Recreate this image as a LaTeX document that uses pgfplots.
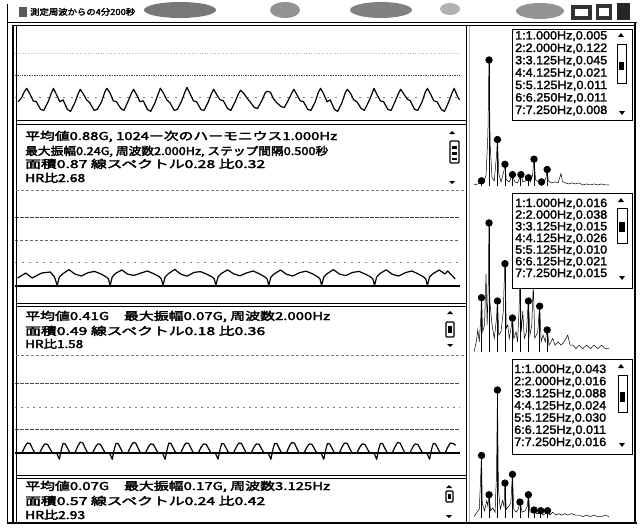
\documentclass[border=0pt]{standalone}
\usepackage{pgfplots}
\pgfplotsset{compat=1.18}
\usepackage{graphicx}
\usepackage{fontspec}
\newfontfamily\jpb{Noto Sans CJK JP}[FakeBold=2.6]
\newfontfamily\lsf{Liberation Sans}[FakeBold=2]
\newcommand{\jl}[4]{\node[anchor=base west,inner sep=0pt] at (#1,#2) {\resizebox{#3pt}{9.2pt}{\jpb\fontsize{12}{12}\selectfont #4}};}
\newcommand{\speclist}[3]{\node[anchor=base west,inner sep=0pt] at (#1,#2) {\resizebox{92pt}{8.4pt}{\lsf #3}};}
\pgfplotsset{
  wave/.style={scale only axis, anchor=south west, width=445pt, xmin=0, xmax=8.33, hide axis},
  spec/.style={scale only axis, anchor=south west, width=150pt, xmin=-0.27, xmax=19.73, hide axis},
  stem/.style={ycomb, black, line width=0.9pt, mark=*, mark size=3.2pt, mark options={fill=black}},
  raw/.style={black, line width=0.5pt},
  sig/.style={black, line width=1.2pt, line join=round}
}
\begin{document}
\begin{tikzpicture}
\path[use as bounding box, fill=white] (0pt,0pt) rectangle (642pt,-527pt);

% ---------- waveform 1 ----------
\begin{axis}[wave, at={(15pt,-120pt)}, height=95pt, ymin=0.67, ymax=1.66]
\addplot[gray!60, dotted, line width=0.6pt] coordinates {(0,1.368)(8.33,1.368)};
\addplot[black!70, densely dotted, line width=0.7pt] coordinates {(0,1.139)(8.33,1.139)};
\addplot[gray, dash pattern=on 2pt off 6pt, line width=0.5pt] coordinates {(0,0.91)(8.33,0.91)};
\addplot[sig] coordinates {
(0.06,0.86)(0.12,0.90)(0.17,0.96)
(0.22,1.00)(0.28,0.94)(0.34,0.87)(0.40,0.86)(0.48,0.78)(0.54,0.77)(0.62,0.86)(0.68,0.95)
(0.72,1.00)(0.78,0.93)(0.84,0.86)(0.90,0.88)(0.98,0.78)(1.04,0.76)(1.12,0.85)(1.18,0.94)
(1.22,0.99)(1.28,0.94)(1.34,0.88)(1.40,0.85)(1.48,0.77)(1.54,0.78)(1.62,0.86)(1.68,0.96)
(1.72,1.00)(1.78,0.95)(1.84,0.87)(1.90,0.86)(1.98,0.79)(2.04,0.77)(2.12,0.87)(2.18,0.95)
(2.22,0.99)(2.28,0.93)(2.34,0.86)(2.40,0.87)(2.48,0.78)(2.54,0.76)(2.62,0.85)(2.68,0.94)
(2.72,1.00)(2.78,0.95)(2.84,0.88)(2.90,0.85)(2.98,0.77)(3.04,0.78)(3.12,0.87)(3.18,0.96)
(3.22,1.01)(3.28,0.94)(3.34,0.87)(3.40,0.86)(3.48,0.78)(3.54,0.77)(3.62,0.86)(3.68,0.95)
(3.72,0.99)(3.78,0.93)(3.84,0.88)(3.90,0.87)(3.98,0.79)(4.04,0.77)(4.12,0.86)(4.18,0.94)
(4.22,0.98)(4.28,0.95)(4.34,0.90)(4.40,0.86)(4.48,0.80)(4.54,0.79)(4.62,0.87)(4.68,0.95)
(4.72,0.97)(4.78,0.96)(4.84,0.89)(4.90,0.85)(4.98,0.81)(5.04,0.80)(5.12,0.88)(5.18,0.95)
(5.22,0.99)(5.28,0.93)(5.34,0.87)(5.40,0.86)(5.48,0.78)(5.54,0.77)(5.62,0.86)(5.68,0.96)
(5.72,1.00)(5.78,0.94)(5.84,0.86)(5.90,0.88)(5.98,0.78)(6.04,0.76)(6.12,0.85)(6.18,0.95)
(6.22,0.99)(6.28,0.95)(6.34,0.88)(6.40,0.86)(6.48,0.79)(6.54,0.77)(6.62,0.86)(6.68,0.94)
(6.72,1.00)(6.78,0.93)(6.84,0.87)(6.90,0.86)(6.98,0.78)(7.04,0.77)(7.12,0.87)(7.18,0.95)
(7.22,0.99)(7.28,0.94)(7.34,0.89)(7.40,0.87)(7.48,0.78)(7.54,0.77)(7.62,0.86)(7.68,0.96)
(7.72,1.00)(7.78,0.94)(7.84,0.87)(7.90,0.86)(7.98,0.78)(8.04,0.76)(8.12,0.86)(8.18,0.95)
(8.22,1.00)(8.28,0.92)(8.32,0.88)};
\end{axis}

% ---------- waveform 2 ----------
\begin{axis}[wave, at={(15pt,-300pt)}, height=110pt, ymin=0.295, ymax=0.845]
\addplot[black!75, dash pattern=on 4pt off 1pt, line width=0.6pt] coordinates {(0,0.71)(8.33,0.71)};
\addplot[black!60, dash pattern=on 3pt off 2pt, line width=0.5pt] coordinates {(0,0.595)(8.33,0.595)};
\addplot[gray, dash pattern=on 2pt off 5pt, line width=0.5pt] coordinates {(0,0.485)(8.33,0.485)};
\addplot[black, line width=1.1pt] coordinates {(0,0.365)(8.33,0.365)};
\addplot[sig] coordinates {
(0.05,0.405)(0.20,0.43)(0.32,0.405)(0.50,0.43)(0.66,0.435)(0.74,0.41)(0.79,0.368)(0.83,0.41)
(0.89,0.425)(1.01,0.447)(1.12,0.425)(1.24,0.415)(1.37,0.432)(1.49,0.438)(1.61,0.425)(1.71,0.41)(1.75,0.40)(1.78,0.368)(1.82,0.41)
(1.88,0.428)(2.00,0.445)(2.11,0.424)(2.23,0.418)(2.36,0.43)(2.48,0.44)(2.60,0.426)(2.70,0.412)(2.74,0.40)(2.77,0.368)(2.81,0.41)
(2.87,0.426)(2.99,0.448)(3.10,0.425)(3.22,0.414)(3.35,0.433)(3.47,0.437)(3.59,0.424)(3.69,0.41)(3.73,0.40)(3.76,0.368)(3.80,0.41)
(3.86,0.427)(3.98,0.446)(4.09,0.426)(4.21,0.416)(4.34,0.431)(4.46,0.44)(4.58,0.425)(4.68,0.41)(4.72,0.40)(4.75,0.368)(4.79,0.41)
(4.85,0.425)(4.97,0.445)(5.08,0.424)(5.20,0.415)(5.33,0.432)(5.45,0.439)(5.57,0.426)(5.67,0.41)(5.71,0.40)(5.74,0.368)(5.78,0.41)
(5.84,0.426)(5.96,0.447)(6.07,0.425)(6.19,0.417)(6.32,0.433)(6.44,0.438)(6.56,0.424)(6.66,0.41)(6.70,0.40)(6.73,0.368)(6.77,0.41)
(6.83,0.427)(6.95,0.446)(7.06,0.424)(7.18,0.415)(7.31,0.432)(7.43,0.44)(7.55,0.425)(7.65,0.41)(7.69,0.40)(7.72,0.368)(7.76,0.41)
(7.82,0.426)(7.94,0.445)(8.05,0.425)(8.10,0.44)(8.24,0.40)};
\end{axis}

% ---------- waveform 3 ----------
\begin{axis}[wave, at={(15pt,-472pt)}, height=117pt, ymin=-0.197, ymax=1.103]
\addplot[black!70, dash pattern=on 4pt off 1pt, line width=0.6pt] coordinates {(0,0.792)(8.33,0.792)};
\addplot[gray, dash pattern=on 2pt off 4pt, line width=0.5pt] coordinates {(0,0.526)(8.33,0.526)};
\addplot[black!70, dash pattern=on 4pt off 1pt, line width=0.6pt] coordinates {(0,0.281)(8.33,0.281)};
\addplot[black, line width=1.1pt] coordinates {(0,0.014)(8.33,0.014)};
\addplot[sig] coordinates {
(0.13,0.014)(0.19,0.09)(0.23,0.125)(0.28,0.12)(0.33,0.06)(0.37,0.014)
(0.46,0.014)(0.52,0.085)(0.56,0.115)(0.61,0.11)(0.66,0.055)(0.70,0.014)
(0.78,0.014)(0.83,-0.055)(0.87,0.06)(0.90,0.12)(0.94,0.115)(0.99,0.06)(1.03,0.014)
(1.12,0.014)(1.18,0.095)(1.22,0.135)(1.27,0.125)(1.32,0.06)(1.36,0.014)
(1.45,0.014)(1.51,0.085)(1.55,0.115)(1.60,0.11)(1.65,0.055)(1.69,0.014)
(1.77,0.014)(1.82,-0.055)(1.86,0.06)(1.89,0.12)(1.93,0.12)(1.98,0.06)(2.02,0.014)
(2.11,0.014)(2.17,0.09)(2.21,0.13)(2.26,0.125)(2.31,0.06)(2.35,0.014)
(2.44,0.014)(2.50,0.085)(2.54,0.115)(2.59,0.11)(2.64,0.055)(2.68,0.014)
(2.76,0.014)(2.81,-0.055)(2.85,0.06)(2.88,0.125)(2.92,0.12)(2.97,0.06)(3.01,0.014)
(3.10,0.014)(3.16,0.09)(3.20,0.125)(3.25,0.12)(3.30,0.06)(3.34,0.014)
(3.43,0.014)(3.49,0.085)(3.53,0.115)(3.58,0.11)(3.63,0.055)(3.67,0.014)
(3.75,0.014)(3.80,-0.055)(3.84,0.06)(3.87,0.12)(3.91,0.115)(3.96,0.06)(4.00,0.014)
(4.09,0.014)(4.15,0.09)(4.19,0.125)(4.24,0.12)(4.29,0.06)(4.33,0.014)
(4.42,0.014)(4.48,0.085)(4.52,0.115)(4.57,0.11)(4.62,0.055)(4.66,0.014)
(4.74,0.014)(4.79,-0.055)(4.83,0.06)(4.86,0.12)(4.90,0.12)(4.95,0.06)(4.99,0.014)
(5.08,0.014)(5.14,0.095)(5.18,0.13)(5.23,0.125)(5.28,0.06)(5.32,0.014)
(5.41,0.014)(5.47,0.085)(5.51,0.115)(5.56,0.11)(5.61,0.055)(5.65,0.014)
(5.73,0.014)(5.78,-0.055)(5.82,0.06)(5.85,0.12)(5.89,0.115)(5.94,0.06)(5.98,0.014)
(6.07,0.014)(6.13,0.09)(6.17,0.125)(6.22,0.12)(6.27,0.06)(6.31,0.014)
(6.40,0.014)(6.46,0.085)(6.50,0.115)(6.55,0.11)(6.60,0.055)(6.64,0.014)
(6.72,0.014)(6.77,-0.055)(6.81,0.06)(6.84,0.12)(6.88,0.12)(6.93,0.06)(6.97,0.014)
(7.06,0.014)(7.12,0.09)(7.16,0.13)(7.21,0.125)(7.26,0.06)(7.30,0.014)
(7.39,0.014)(7.45,0.085)(7.49,0.115)(7.54,0.11)(7.59,0.055)(7.63,0.014)
(7.71,0.014)(7.76,-0.055)(7.80,0.06)(7.83,0.12)(7.87,0.115)(7.92,0.06)(7.96,0.014)
(8.05,0.014)(8.11,0.09)(8.15,0.125)(8.20,0.12)(8.25,0.10)};
\end{axis}

% ---------- spectrum 1 ----------
\begin{axis}[spec, at={(472pt,-190pt)}, height=165pt, ymin=-0.00387, ymax=0.1559]
\addplot[raw] coordinates {
(0,0.001)(0.5,0.002)(0.9,0.004)(1.0,0.006)(1.2,0.003)(1.6,0.010)(1.85,0.05)(2.0,0.125)(2.15,0.04)(2.4,0.008)(2.7,0.005)(3.0,0.03)(3.125,0.046)(3.3,0.012)(3.6,0.004)(4.0,0.015)(4.125,0.022)(4.3,0.006)(4.7,0.004)(5.0,0.009)(5.125,0.012)(5.4,0.004)(5.8,0.003)(6.1,0.008)(6.25,0.012)(6.5,0.004)(6.9,0.005)(7.25,0.009)(7.5,0.004)(7.8,0.010)(8.0,0.027)(8.2,0.006)(8.6,0.004)(9.0,0.005)(9.3,0.003)(9.6,0.008)(9.75,0.017)(9.9,0.005)(10.3,0.003)(10.8,0.004)(11.2,0.003)(11.6,0.012)(11.8,0.004)(12.2,0.003)(12.6,0.002)(13.0,0.003)(13.5,0.002)(14.0,0.003)(14.5,0.001)(15.0,0.002)(15.5,0.001)(16.0,0.002)(16.5,0.001)(17.0,0.002)(17.5,0.001)(18.0,0.001)};
\addplot[stem] coordinates {(1.0,0.005)(2.0,0.122)(3.125,0.045)(4.125,0.021)(5.125,0.011)(6.25,0.011)(7.25,0.008)(8.0,0.026)(9.0,0.004)(9.75,0.016)};
\end{axis}

% ---------- spectrum 2 ----------
\begin{axis}[spec, at={(472pt,-355pt)}, height=165pt, ymin=-0.00088, ymax=0.0477]
\addplot[raw] coordinates {
(0,0.000)(0.3,0.003)(0.5,0.0065)(0.7,0.003)(0.9,0.010)(1.0,0.017)(1.15,0.006)(1.4,0.008)(1.6,0.023)(1.75,0.008)(1.9,0.02)(2.0,0.039)(2.1,0.015)(2.4,0.008)(2.7,0.004)(3.0,0.010)(3.125,0.016)(3.3,0.005)(3.6,0.006)(3.9,0.012)(4.125,0.027)(4.3,0.007)(4.5,0.008)(4.7,0.004)(5.0,0.008)(5.125,0.011)(5.3,0.004)(5.6,0.006)(5.8,0.003)(6.0,0.012)(6.125,0.022)(6.3,0.006)(6.5,0.012)(6.7,0.004)(7.0,0.006)(7.25,0.016)(7.45,0.005)(7.7,0.008)(7.9,0.020)(8.1,0.004)(8.5,0.006)(8.75,0.014)(8.95,0.003)(9.2,0.005)(9.5,0.003)(9.75,0.007)(10.0,0.002)(10.5,0.004)(10.8,0.002)(11.2,0.003)(11.6,0.002)(12.0,0.003)(12.5,0.005)(12.8,0.002)(13.2,0.002)(13.6,0.001)(14.0,0.002)(14.5,0.001)(15.0,0.002)(15.5,0.001)(16.0,0.002)(16.5,0.001)(17.0,0.002)(17.5,0.001)(18.0,0.001)};
\addplot[stem] coordinates {(1.0,0.016)(2.0,0.038)(3.125,0.015)(4.125,0.026)(5.125,0.010)(6.125,0.021)(7.25,0.015)(8.75,0.0135)(9.75,0.0065)};
\end{axis}

% ---------- spectrum 3 ----------
\begin{axis}[spec, at={(472pt,-521pt)}, height=166pt, ymin=-0.00206, ymax=0.1121]
\addplot[raw] coordinates {
(0,0.001)(0.4,0.004)(0.7,0.006)(0.9,0.03)(1.0,0.044)(1.1,0.01)(1.4,0.005)(1.7,0.012)(1.85,0.008)(2.0,0.017)(2.2,0.005)(2.5,0.007)(2.8,0.004)(3.0,0.03)(3.125,0.089)(3.25,0.02)(3.5,0.006)(3.8,0.012)(4.0,0.008)(4.125,0.025)(4.3,0.006)(4.6,0.008)(4.9,0.01)(5.125,0.031)(5.3,0.006)(5.6,0.004)(5.9,0.006)(6.125,0.012)(6.4,0.004)(6.8,0.005)(7.1,0.008)(7.25,0.017)(7.45,0.004)(7.8,0.004)(8.0,0.006)(8.3,0.003)(8.6,0.003)(8.9,0.005)(9.2,0.002)(9.5,0.003)(9.8,0.005)(10.1,0.002)(10.5,0.004)(10.9,0.002)(11.3,0.003)(11.7,0.002)(12.1,0.003)(12.5,0.002)(13.0,0.003)(13.5,0.002)(14.0,0.002)(14.5,0.001)(15.0,0.002)(15.5,0.001)(16.0,0.002)(16.5,0.001)(17.0,0.001)(17.5,0.002)(18.0,0.001)};
\addplot[stem] coordinates {(1.0,0.043)(2.0,0.016)(3.125,0.088)(4.125,0.024)(5.125,0.030)(6.125,0.011)(7.25,0.016)(8.0,0.0055)(8.9,0.005)(9.8,0.005)};
\end{axis}

\begin{scope}[x=1pt,y=-1pt]
% title bar
\fill[black!65] (19,7) rectangle (27,17);
\node[anchor=base west,inner sep=0pt] at (30,15) {\resizebox{105pt}{7pt}{\jpb 測定周波からの4分200秒}};
\fill[black!70, opacity=0.75] (180,10) ellipse [x radius=36pt, y radius=8pt];
\fill[black!70, opacity=0.6] (285,10) ellipse [x radius=15pt, y radius=8pt];
\fill[black!70, opacity=0.7] (381,10) ellipse [x radius=31pt, y radius=8pt];
\fill[black!60, opacity=0.5] (450,9) ellipse [x radius=10pt, y radius=6pt];
\fill[black!70, opacity=0.6] (540,11) ellipse [x radius=24pt, y radius=8pt];
\fill[black!80] (571,5) rectangle (592,20);
\fill[black!80] (596,4) rectangle (612,20);
\fill[black!85] (617,3) rectangle (630,20);
\fill[white] (575,9) rectangle (588,16);
\fill[white] (599,8) rectangle (609,16);
% frame
\draw[line width=1pt] (7,4) -- (7,524);
\draw[line width=0.8pt] (7,22) -- (637,22);
\draw[line width=2.4pt] (13,26) -- (13,522);
\draw[line width=0.6pt] (16.5,26) -- (16.5,522);
\draw[line width=1pt] (12,26) -- (634,26);
\draw[line width=1.2pt] (7,523) -- (637,523);
\draw[line width=2.6pt] (635,22) -- (635,523);
\draw[line width=0.6pt] (466,26) -- (466,522);
\draw[gray!60, line width=0.4pt] (469,26) -- (469,522);
% left panel separators
\draw[line width=1pt] (16,120) -- (466,120);
\draw[line width=0.6pt] (16,124) -- (466,124);
\draw[gray, line width=0.5pt, dash pattern=on 3pt off 2pt] (16,190) -- (466,190);
\draw[line width=1pt] (16,303) -- (466,303);
\draw[line width=0.5pt] (16,306) -- (466,306);
\draw[gray, line width=0.5pt, dash pattern=on 3pt off 2pt] (16,355) -- (466,355);
\draw[line width=1pt] (16,475) -- (466,475);
\draw[line width=0.5pt] (16,478) -- (466,478);
% scroll widgets in text boxes
\draw[line width=1.2pt, rounded corners=1pt] (450,141) rectangle (459,163);
\fill (452,146) rectangle (457,149); \fill (452,152) rectangle (457,155); \fill (452,158) rectangle (457,160);
\fill (452,131) -- (455,134) -- (449,134) -- cycle; \fill (449,181) -- (455,181) -- (452,184) -- cycle;
\draw[line width=1.2pt, rounded corners=1pt] (446,322) rectangle (454,337);
\fill (448,326) rectangle (452,333);
\fill (450,311) -- (453,314) -- (447,314) -- cycle; \fill (447,344) -- (453,344) -- (450,347) -- cycle;
\draw[line width=1.2pt, rounded corners=1pt] (446,491) rectangle (453,502);
\fill (448,494) rectangle (451,499);
\fill (449,485) -- (452,488) -- (446,488) -- cycle; \fill (446,515) -- (452,515) -- (449,518) -- cycle;
% left panel texts
\jl{25}{140}{312}{平均値0.88G, 1024ー次のハーモニウス1.000Hz}
\jl{25}{155}{303}{最大振幅0.24G, 周波数2.000Hz, ステップ間隔0.500秒}
\jl{25}{168}{240}{面積0.87 線スペクトル0.28 比0.32}
\jl{25}{182}{60}{HR比2.68}
\jl{25}{320}{305}{平均値0.41G　最大振幅0.07G, 周波数2.000Hz}
\jl{25}{335}{240}{面積0.49 線スペクトル0.18 比0.36}
\jl{25}{348}{58}{HR比1.58}
\jl{25}{490}{305}{平均値0.07G　最大振幅0.17G, 周波数3.125Hz}
\jl{25}{505}{240}{面積0.57 線スペクトル0.24 比0.42}
\jl{25}{519}{60}{HR比2.93}
% spectrum list boxes
\filldraw[fill=white, draw=black, line width=0.6pt] (512,29) rectangle (632,120);
\filldraw[fill=white, draw=black, line width=0.6pt] (512,193) rectangle (632,288);
\filldraw[fill=white, draw=black, line width=0.6pt] (512,359) rectangle (632,454);
\draw[line width=1pt] (617,45) rectangle (626,83); \fill (619,62) rectangle (624,70);
\draw[line width=1pt] (617,208) rectangle (627,243); \fill (619,222) rectangle (625,232);
\draw[line width=1pt] (618,375) rectangle (627,412); \fill (620,392) rectangle (625,402);
\fill (621,33) -- (624,37) -- (618,37) -- cycle; \fill (619,111) -- (625,111) -- (622,115) -- cycle;
\fill (621,198) -- (624,202) -- (618,202) -- cycle; \fill (619,276) -- (625,276) -- (622,280) -- cycle;
\fill (621,364) -- (624,368) -- (618,368) -- cycle; \fill (619,443) -- (625,443) -- (622,447) -- cycle;
\speclist{515}{39.5}{1:1.000Hz,0.005}
\speclist{515}{51.9}{2:2.000Hz,0.122}
\speclist{515}{64.3}{3:3.125Hz,0.045}
\speclist{515}{76.7}{4:4.125Hz,0.021}
\speclist{515}{89.1}{5:5.125Hz,0.011}
\speclist{515}{101.5}{6:6.250Hz,0.011}
\speclist{515}{114}{7:7.250Hz,0.008}
\speclist{515}{207}{1:1.000Hz,0.016}
\speclist{515}{218.7}{2:2.000Hz,0.038}
\speclist{515}{230.3}{3:3.125Hz,0.015}
\speclist{515}{242}{4:4.125Hz,0.026}
\speclist{515}{253.7}{5:5.125Hz,0.010}
\speclist{515}{265.3}{6:6.125Hz,0.021}
\speclist{515}{277}{7:7.250Hz,0.015}
\speclist{514}{373}{1:1.000Hz,0.043}
\speclist{514}{385.2}{2:2.000Hz,0.016}
\speclist{514}{397.3}{3:3.125Hz,0.088}
\speclist{514}{409.5}{4:4.125Hz,0.024}
\speclist{514}{421.7}{5:5.125Hz,0.030}
\speclist{514}{433.8}{6:6.125Hz,0.011}
\speclist{514}{446}{7:7.250Hz,0.016}
\end{scope}
\end{tikzpicture}
\end{document}
